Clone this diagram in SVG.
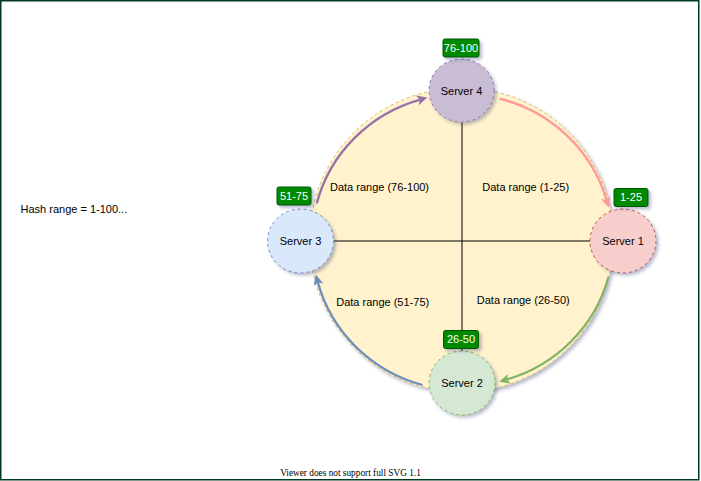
<svg xmlns="http://www.w3.org/2000/svg" width="701" height="481" viewBox="0 0 701 481">
<style>
  .t { font-family: "Liberation Sans", Arial, sans-serif; font-size: 11px; fill: #000; text-anchor: middle; }
  .badge rect { fill: #008a00; stroke: #005700; stroke-width: 1; }
  .badge text { font-family: "Liberation Sans", Arial, sans-serif; font-size: 11px; fill: #fff; text-anchor: middle; }
  .srv { stroke-dasharray: 3 3; stroke-width: 1; }
  .arc { fill: none; stroke-width: 2.3; }
  .axis { stroke: #000; stroke-width: 1; fill: none; }
</style>
<defs>
  <filter id="sh" x="-20%" y="-20%" width="150%" height="150%">
    <feDropShadow dx="2.5" dy="2.5" stdDeviation="1.5" flood-color="#3d4574" flood-opacity="0.35"/>
  </filter>
  <marker id="mP" markerUnits="userSpaceOnUse" markerWidth="14" markerHeight="14" refX="0" refY="0" orient="auto" overflow="visible"><path d="M7.5,0 L-3,-5 L-0.5,0 L-3,5 Z" fill="#9673a6"/></marker>
  <marker id="mR" markerUnits="userSpaceOnUse" markerWidth="14" markerHeight="14" refX="0" refY="0" orient="auto" overflow="visible"><path d="M7.5,0 L-3,-5 L-0.5,0 L-3,5 Z" fill="#ff9999"/></marker>
  <marker id="mG" markerUnits="userSpaceOnUse" markerWidth="14" markerHeight="14" refX="0" refY="0" orient="auto" overflow="visible"><path d="M7.5,0 L-3,-5 L-0.5,0 L-3,5 Z" fill="#82b366"/></marker>
  <marker id="mB" markerUnits="userSpaceOnUse" markerWidth="14" markerHeight="14" refX="0" refY="0" orient="auto" overflow="visible"><path d="M7.5,0 L-3,-5 L-0.5,0 L-3,5 Z" fill="#6c8ebf"/></marker>
</defs>

<rect x="0.75" y="0.75" width="698" height="479" fill="#fff" stroke="#00391f" stroke-width="1.5"/>

<g id="ring">
  <circle cx="461.5" cy="240" r="152" fill="#fff2cc" stroke="#d6b656" stroke-dasharray="3 3" filter="url(#sh)"/>
</g>

<g id="connectors">
  <path class="axis" d="M333.5,241 H590"/>
  <path class="axis" d="M462,122.5 V351"/>
  <path class="arc" stroke="#9673a6" marker-end="url(#mP)" d="M316.8,203.4 A150,146 0 0 1 420.2,99.6"/>
  <path class="arc" stroke="#ff9999" marker-end="url(#mR)" d="M499.6,98.7 A150,146 0 0 1 606.6,200.4"/>
  <path class="arc" stroke="#82b366" marker-end="url(#mG)" d="M608.5,276.8 A150,146 0 0 1 506.4,379.6"/>
  <path class="arc" stroke="#6c8ebf" marker-end="url(#mB)" d="M422.5,385 A150,146 0 0 1 317.7,281.8"/>
</g>

<g id="hash-label">
  <text class="t" x="20.5" y="213" style="text-anchor:start">Hash range = 1-100...</text>
</g>
<g id="label-76-100-range"><text class="t" x="379.5" y="190.5">Data range (76-100)</text></g>
<g id="label-1-25-range"><text class="t" x="525.7" y="190.5">Data range (1-25)</text></g>
<g id="label-51-75-range"><text class="t" x="382.7" y="305.5">Data range (51-75)</text></g>
<g id="label-26-50-range"><text class="t" x="523.3" y="303.8">Data range (26-50)</text></g>

<g id="server4">
  <ellipse class="srv" cx="461.5" cy="90.5" rx="32.5" ry="31.5" fill="#c9bdd6" stroke="#9673a6" filter="url(#sh)"/>
  <text class="t" x="461.5" y="94.5">Server 4</text>
</g>
<g id="server1">
  <ellipse class="srv" cx="623" cy="241" rx="33" ry="32" fill="#f8cecc" stroke="#b85450" filter="url(#sh)"/>
  <text class="t" x="623" y="245">Server 1</text>
</g>
<g id="server2">
  <ellipse class="srv" cx="462" cy="383" rx="33" ry="32" fill="#d5e8d4" stroke="#82b366" filter="url(#sh)"/>
  <text class="t" x="462" y="387">Server 2</text>
</g>
<g id="server3">
  <ellipse class="srv" cx="300.5" cy="241" rx="33" ry="32" fill="#dae8fc" stroke="#6c8ebf" filter="url(#sh)"/>
  <text class="t" x="300.5" y="245">Server 3</text>
</g>

<g id="badge-76-100" class="badge">
  <rect x="443" y="39" width="36" height="18" rx="2" filter="url(#sh)"/>
  <text x="461" y="51.8">76-100</text>
</g>
<g id="badge-51-75" class="badge">
  <rect x="277" y="187" width="34" height="18" rx="2" filter="url(#sh)"/>
  <text x="294" y="199.8">51-75</text>
</g>
<g id="badge-1-25" class="badge">
  <rect x="614" y="188.5" width="34" height="18" rx="2" filter="url(#sh)"/>
  <text x="631" y="201.3">1-25</text>
</g>
<g id="badge-26-50" class="badge">
  <rect x="443.5" y="330.5" width="35" height="18" rx="2" filter="url(#sh)"/>
  <text x="461" y="343.3">26-50</text>
</g>

<text x="350.5" y="476" font-family="'Liberation Serif', 'Times New Roman', serif" font-size="9.3" text-anchor="middle" fill="#000">Viewer does not support full SVG 1.1</text>
</svg>
